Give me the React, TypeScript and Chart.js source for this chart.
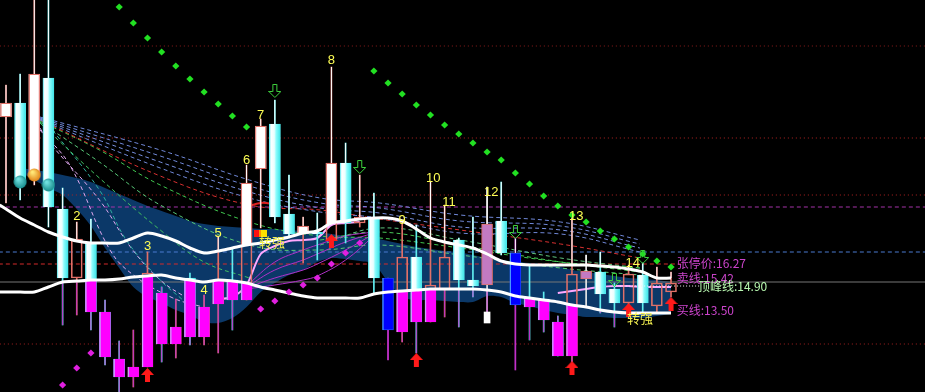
import React, { useEffect, useRef } from "react";
import { Chart, registerables } from "chart.js";

Chart.register(...registerables);

// ---------------- data (prices) ----------------
const candleTypes = [
  "up", "down", "up", "down", "down", "up", "down", "down", "down", "up",
  "up", "down", "up", "down", "up", "up", "down", "up", "up", "down",
  "down", "up", "down", "up", "down", "up", "down", "blue", "up", "down",
  "up", "up", "down", "down", "mauve", "down", "blue", "down", "down", "down",
  "up", "mauve", "down", "down", "up", "down", "up", "up",
];
const opens = [
  25.18, 26.02, 21.58, 27.52, 19.66, 15.52, 17.62, 13.48, 10.66, 9.58,
  10.18, 14.62, 11.56, 15.52, 11.98, 13.96, 15.4, 14.2, 22.06, 24.76,
  19.36, 18.16, 18.28, 17.8, 22.42, 18.82, 19.12, 15.52, 12.28, 16.78,
  12.88, 14.8, 17.8, 15.4, 18.76, 18.94, 17.02, 14.32, 14.26, 12.88,
  10.84, 15.94, 15.88, 14.86, 14.02, 15.7, 13.84, 14.68,
];
const highs = [
  27.1, 27.76, 33.4, 33.4, 20.92, 18.88, 19.06, 14.2, 11.74, 12.4,
  17.08, 14.98, 14.26, 15.82, 14.5, 18.04, 17.32, 22.3, 25.06, 26.2,
  21.7, 19.18, 19.42, 28.18, 23.62, 21.7, 20.62, 15.52, 19.0, 18.7,
  21.28, 19.9, 17.92, 19.18, 20.98, 21.28, 17.92, 16.3, 14.68, 13.24,
  19.3, 16.9, 17.08, 15.22, 16.3, 16.42, 16.18, 15.88,
];
const lows = [
  20.02, 20.2, 21.1, 18.58, 12.7, 13.3, 12.4, 10.3, 8.5, 8.98,
  10.18, 10.48, 10.72, 11.5, 11.5, 11.02, 12.4, 14.2, 18.52, 18.82,
  17.92, 16.42, 16.6, 17.8, 17.62, 18.58, 14.62, 10.6, 11.68, 11.02,
  12.88, 13.18, 12.58, 14.38, 13.48, 16.9, 10.0, 11.8, 12.28, 10.84,
  10.48, 13.78, 13.42, 12.58, 13.48, 13.42, 13.42, 14.38,
];
const closes = [
  26.02, 21.4, 27.76, 19.78, 15.52, 17.86, 13.48, 10.78, 9.58, 10.18,
  15.82, 11.56, 12.58, 11.98, 13.78, 15.4, 14.2, 21.22, 24.64, 19.18,
  18.16, 18.64, 18.16, 22.42, 18.82, 19.18, 15.52, 12.4, 16.78, 12.88,
  15.1, 16.78, 15.4, 15.04, 15.1, 17.02, 13.9, 13.78, 13.0, 10.84,
  15.76, 15.46, 14.56, 14.02, 15.76, 14.02, 15.22, 15.22,
];

// upper / lower white lines (plus their value at the left edge)
const lineEdgeIdx = -0.45;
const upperEdge = 19.9;
const lowerEdge = 14.68;
const upperLine = [
  19.66, 19.12, 18.7, 18.28, 17.98, 17.74, 17.62, 17.62, 17.62, 17.92,
  18.22, 18.04, 17.74, 17.32, 17.02, 17.14, 17.32, 17.5, 17.62, 17.8,
  17.98, 18.22, 18.34, 18.82, 18.94, 19.06, 19.12, 19.12, 18.94, 18.46,
  17.92, 17.68, 17.5, 17.32, 16.96, 16.54, 16.36, 16.3, 16.3, 16.3,
  16.3, 16.3, 16.24, 16.18, 16.06, 15.88, 15.52, 15.52,
];
const lowerLine = [
  14.68, 14.68, 14.68, 14.98, 15.28, 15.34, 15.4, 15.4, 15.46, 15.58,
  15.64, 15.7, 15.52, 15.4, 15.28, 15.4, 15.34, 15.22, 14.98, 14.8,
  14.62, 14.44, 14.32, 14.32, 14.32, 14.32, 14.56, 14.68, 14.74, 14.8,
  14.86, 14.86, 14.86, 14.86, 14.8, 14.68, 14.44, 14.32, 14.2, 14.08,
  13.9, 13.78, 13.6, 13.48, 13.42, 13.42, 13.42, 13.42,
];
// dark blue band
const bandTop = [
  null, 22.12, 22.0, 21.88, 21.7, 21.52, 21.28, 20.92, 20.56, 20.2,
  19.84, 19.54, 19.24, 18.94, 18.76, 18.64, 18.58, 18.52, 18.46, 18.46,
  18.4, 18.34, 18.28, 18.16, 18.04, 17.98, 17.92, 17.74, 17.56, 17.38,
  17.26, 17.14, 17.08, 16.9, 16.72, 16.6, 16.48, 16.42, 16.36, 16.24,
  16.0, 15.88, 15.76, 15.64, 15.52, 15.46, 15.4, 15.28,
];
const bandBottom = [
  null, 21.88, 21.4, 20.92, 20.5, 19.66, 18.64, 17.32, 16.12, 14.98,
  14.38, 14.02, 13.6, 13.3, 12.88, 12.82, 13.12, 13.78, 14.68, 15.22,
  15.7, 16.0, 16.48, 16.72, 16.66, 16.54, 16.36, 15.28, 14.38, 14.2,
  14.2, 14.14, 14.08, 14.08, 14.44, 14.38, 14.02, 13.84, 13.6, 13.42,
  13.3, 13.18, 13.18, 13.12, 13.12, 13.12, 13.24, 13.36,
];
const pinkLine = [
  null, null, null, null, null, null, null, null, null, null,
  null, null, null, null, null, 14.26, 14.38, 15.1, 16.96, 17.44,
  17.74, 17.8, 17.92, 18.7, 18.82, 18.88, null, null, null, null,
  null, null, null, null, null, null, null, null, null, 14.62,
  14.74, 14.86, 14.98, 15.04, 15.04, 14.98, 14.98, 14.98,
];

// fan of dashed averages
const fanXBlue = [2.4, 10.9, 17.2, 22.2, 26.4, 32.1, 39.2, 44.8];
const fanBlue1 = [25.18, 23.2, 21.4, 20.32, 20.02, 19.3, 18.88, 17.8];
const fanBlue2 = [25.12, 22.84, 21.04, 20.02, 19.72, 18.94, 18.64, 17.56];
const fanBlue3 = [25.06, 22.48, 20.68, 19.72, 19.42, 18.58, 18.4, 17.32];
const fanBlue4 = [25.0, 22.12, 20.32, 19.48, 19.12, 18.22, 18.16, 17.08];
const fanRed1 = [25.0, 21.64, 19.9, 19.6, 19.06, 18.4, 17.56, 16.72];
const fanXGreen = [2.4, 6.6, 10.9, 17.2, 22.2, 26.4, 32.1, 39.2, 44.8];
const fanGreen1 = [24.94, 23.2, 21.1, 18.88, 18.04, 17.92, 17.32, 16.48, 16.12];
const fanGreen2 = [24.88, 22.48, 19.9, 17.5, 17.2, 17.5, 16.9, 16.12, 15.7];
const fanXGreen3 = [2.4, 6.6, 10.9, 14, 17.2];
const fanGreen3 = [24.82, 21.52, 18.4, 16.48, 15.52];
const fanXGreenMid = [22.2, 26.4, 32.1, 39.2, 44.8];
const fanGreen4 = [17.8, 18.28, 17.5, 16.48, 15.88];
const fanGreen5 = [17.5, 18.52, 17.8, 16.72, 16.12];
const fanXTeal = [3, 6.6, 8.5, 10.9, 12.5];
const fanTeal = [24.7, 20.8, 17.8, 15.4, 14.2];
const fanXLav1 = [2.4, 3.1, 6.6, 8.8, 10.9, 13];
const fanLav1 = [24.52, 23.62, 20.2, 17.38, 15.4, 14.2];
const fanXLav2 = [2.4, 4.5, 7.35, 9, 11.8, 13.9];
const fanLav2 = [24.4, 22.3, 17.2, 15.7, 14.32, 13.78];

// purple thin fan
const purpleX = [17, 19, 21, 22, 24, 26];
const purple1 = [15.04, 16.48, 17.2, 17.5, 18.04, 18.28];
const purple2 = [14.98, 16.0, 16.6, 16.96, 17.68, 18.22];
const purple3 = [14.92, 15.52, 16.0, 16.36, 17.2, 18.16];
const purple4 = [14.86, 15.1, 15.4, 15.64, 16.6, 18.04];
const redShortX = [17, 18, 19];
const redShortY = [19.78, 20.02, 19.96];

// stop-and-reverse dots
const greenDots = [
  null, null, null, null, null, null, null, null, 31.78, 30.82,
  29.92, 29.08, 28.24, 27.46, 26.68, 25.96, 25.24, 24.58, null, null,
  null, null, null, null, null, null, 27.94, 27.22, 26.56, 25.9,
  25.3, 24.7, 24.16, 23.62, 23.08, 22.6, 21.82, 21.16, 20.44, 19.84,
  19.3, 18.88, 18.34, 17.86, 17.38, 16.96, 16.54, 16.18,
];
const magentaDotIdx = [4, 5, 6, 18, 19, 20, 21, 22, 23, 24, 25];
const magentaDotY = [9.1, 10.12, 11.02, 13.66, 14.14, 14.68, 15.1, 15.52, 16.36, 17.02, 17.62];

// signals
const upArrowIdx = [10, 23, 29, 40, 44, 47];
const upArrowY = [9.7, 17.74, 10.6, 10.12, 13.6, 13.96];
const downArrowIdx = [19, 25, 36, 43, 45];
const downArrowY = [26.74, 22.18, 18.28, 15.4, 16.78];
const ballIdx = [1, 2, 3];
const ballY = [21.28, 21.7, 21.1];

const countText = ["2", "3", "4", "5", "6", "7", "8", "9", "10", "11", "12", "13", "14"];
const countIdx = [5, 10, 14, 15, 17, 18, 23, 28, 30.2, 31.3, 34.3, 40.3, 44.3];
const countY = [19.24, 17.44, 14.8, 18.22, 22.6, 25.3, 28.6, 19.0, 21.52, 20.08, 20.68, 19.24, 16.42];
const strongText = ["转强", "转强"];
const strongIdx = [18.8, 44.8];
const strongY = [17.68, 13.12];
const flagIdx = 18;
const flagY = 18.22;

const refLineY = [29.44, 23.92, 20.5, 19.78, 17.08, 16.36, 15.28, 11.56];
const refLineEnd = [66, 66, 66, 66, 66, 47.7, 66, 66];
const peakLineX = [43.4, 49.0];
const peakLineY = 15.04;
const markerIdx = 34;
const markerRange = [12.82, 13.48];

const rightText = ["张停价:16.27", "卖线:15.42", "顶峰线:14.90", "买线:13.50"];
const rightIdx = [47.4, 47.4, 48.9, 47.4];
const rightY = [16.42, 15.52, 15.04, 13.6];

// ---------------- helpers ----------------
const pts = (xs: number[], ys: (number | null)[]) =>
  ys.map((v, k) => ({ x: xs[k], y: v })).filter((p) => p.y !== null);
const seq = (ys: any[]) => ys.map((_, k) => k);

function makeUpArrow() {
  const c = document.createElement("canvas");
  c.width = 13; c.height = 14;
  const g = c.getContext("2d")!;
  g.fillStyle = "#ff1a1a";
  g.beginPath();
  g.moveTo(6.5, 0); g.lineTo(13, 7); g.lineTo(9, 7); g.lineTo(9, 14);
  g.lineTo(4, 14); g.lineTo(4, 7); g.lineTo(0, 7); g.closePath(); g.fill();
  return c;
}
function makeDownArrow() {
  const c = document.createElement("canvas");
  c.width = 13; c.height = 14;
  const g = c.getContext("2d")!;
  g.strokeStyle = "#3ed23e"; g.lineWidth = 1;
  g.beginPath();
  g.moveTo(4.5, 0.5); g.lineTo(8.5, 0.5); g.lineTo(8.5, 7.5); g.lineTo(12.5, 7.5);
  g.lineTo(6.5, 13.5); g.lineTo(0.5, 7.5); g.lineTo(4.5, 7.5); g.closePath(); g.stroke();
  return c;
}
function makeBall(base: string, hi: string) {
  const c = document.createElement("canvas");
  c.width = 14; c.height = 14;
  const g = c.getContext("2d")!;
  const gr = g.createRadialGradient(5, 4, 1, 7, 7, 7);
  gr.addColorStop(0, hi); gr.addColorStop(1, base);
  g.fillStyle = gr; g.beginPath(); g.arc(7, 7, 6.5, 0, Math.PI * 2); g.fill();
  return c;
}

const SALMON = "#e07068";
const MAGENTA = "#ff00ff";
const WICK_PURPLE = "#c030c8";

const bgPlugin = {
  id: "bg",
  beforeDraw(chart: any) {
    const { ctx, width, height } = chart;
    ctx.save(); ctx.fillStyle = "#000"; ctx.fillRect(0, 0, width, height); ctx.restore();
  },
};

function zoneClip(ctx: any, line: any[], area: any, above: boolean) {
  const edge = above ? area.top - 20 : area.bottom + 20;
  ctx.beginPath();
  ctx.moveTo(area.left - 20, edge);
  ctx.lineTo(area.left - 20, line[0].y);
  line.forEach((p) => ctx.lineTo(p.x, p.y));
  ctx.lineTo(area.right + 20, line[line.length - 1].y);
  ctx.lineTo(area.right + 20, edge);
  ctx.closePath();
  ctx.clip();
}

const zonePlugin = {
  id: "zones",
  afterDatasetDraw(chart: any, args: any) {
    const ds = chart.data.datasets[args.index];
    const role = ds.role;
    if (role !== "body" && role !== "wickUp" && role !== "wickDown") return;
    const ctx = chart.ctx;
    const area = chart.chartArea;
    const ui = chart.data.datasets.findIndex((d: any) => d.role === "upper");
    const li = chart.data.datasets.findIndex((d: any) => d.role === "lower");
    const up = chart.getDatasetMeta(ui).data.map((p: any) => ({ x: p.x, y: p.y }));
    const lo = chart.getDatasetMeta(li).data.map((p: any) => ({ x: p.x, y: p.y }));
    const rects = args.meta.data.map((el: any) => ({
      l: el.x - el.width / 2,
      t: Math.min(el.y, el.base),
      w: el.width,
      h: Math.abs(el.y - el.base),
    }));
    if (role === "body") {
      ctx.save();
      rects.forEach((r: any, i: number) => {
        if (candleTypes[i] === "down" && r.h > 0) {
          const g = ctx.createLinearGradient(r.l, 0, r.l + r.w, 0);
          g.addColorStop(0, "#58e6ee");
          g.addColorStop(0.15, "#ffffff");
          g.addColorStop(0.45, "#eaffff");
          g.addColorStop(0.62, "#8cfcfc");
          g.addColorStop(1, "#3ee4e8");
          ctx.fillStyle = g;
          ctx.fillRect(r.l, r.t, r.w, r.h);
        }
        if (candleTypes[i] === "blue" && r.h > 0) {
          ctx.fillStyle = "#50a8ff";
          ctx.fillRect(r.l, r.t, 1, r.h);
        }
      });
      ctx.restore();
      ctx.save();
      zoneClip(ctx, up, area, true);
      rects.forEach((r: any, i: number) => {
        if (candleTypes[i] === "up" && r.h > 0) {
          ctx.fillStyle = "#ffffff";
          ctx.fillRect(r.l, r.t, r.w, r.h);
          ctx.strokeStyle = SALMON; ctx.lineWidth = 1;
          ctx.strokeRect(r.l + 0.5, r.t + 0.5, r.w - 1, Math.max(r.h - 1, 0));
        }
      });
      ctx.restore();
      ctx.save();
      zoneClip(ctx, lo, area, false);
      rects.forEach((r: any, i: number) => {
        const t = candleTypes[i];
        if ((t === "up" || t === "down") && r.h > 0) {
          ctx.fillStyle = MAGENTA;
          ctx.fillRect(r.l, r.t, r.w, r.h);
          ctx.fillStyle = "#c8a0ff";
          ctx.fillRect(r.l, r.t, 1.2, r.h);
        }
      });
      ctx.restore();
    } else {
      ctx.save();
      zoneClip(ctx, up, area, true);
      ctx.fillStyle = "#ffffff";
      rects.forEach((r: any) => { if (r.h > 0) ctx.fillRect(r.l, r.t, r.w, r.h); });
      ctx.restore();
      ctx.save();
      zoneClip(ctx, lo, area, false);
      ctx.fillStyle = WICK_PURPLE;
      rects.forEach((r: any) => { if (r.h > 0) ctx.fillRect(r.l, r.t, r.w, r.h); });
      ctx.restore();
    }
  },
};

const textPlugin = {
  id: "texts",
  afterDatasetsDraw(chart: any) {
    const { ctx } = chart;
    const xs = chart.scales.x;
    const ys = chart.scales.y;
    ctx.save();
    // red / yellow flag
    const fx = xs.getPixelForValue(flagIdx);
    const fy = ys.getPixelForValue(flagY);
    ctx.fillStyle = "#ff1010"; ctx.fillRect(Math.round(fx) - 7, Math.round(fy) - 3, 6, 7);
    ctx.fillStyle = "#ffe000"; ctx.fillRect(Math.round(fx) - 1, Math.round(fy) - 3, 7, 7);
    ctx.fillStyle = "#ff9000"; ctx.fillRect(Math.round(fx) - 2, Math.round(fy) - 3, 2, 7);

    ctx.textAlign = "center";
    ctx.textBaseline = "middle";
    ctx.font = '13px "Liberation Sans", "DejaVu Sans", sans-serif';
    ctx.fillStyle = "#ffff55";
    countText.forEach((t, k) => {
      ctx.fillText(t, xs.getPixelForValue(countIdx[k]), ys.getPixelForValue(countY[k]));
    });
    ctx.font = '13px "Noto Sans CJK SC", sans-serif';
    ctx.fillStyle = "#f4f050";
    strongText.forEach((t, k) => {
      ctx.fillText(t, xs.getPixelForValue(strongIdx[k]), ys.getPixelForValue(strongY[k]));
    });
    ctx.textAlign = "left";
    ctx.font = '12px "Noto Sans CJK SC", sans-serif';
    const rc = ["#cc44cc", "#c844c8", "#b8f8b0", "#cc44cc"];
    rightText.forEach((t, k) => {
      ctx.fillStyle = rc[k];
      ctx.fillText(t, xs.getPixelForValue(rightIdx[k]), ys.getPixelForValue(rightY[k]));
    });
    ctx.restore();
  },
};

export default function App() {
  const ref = useRef<HTMLCanvasElement>(null);
  useEffect(() => {
    const upArrow = makeUpArrow();
    const downArrow = makeDownArrow();
    const teal = makeBall("#128888", "#70e0e0");
    const orange = makeBall("#e07c10", "#ffe878");

    const refStyle = [
      { c: "#8c1c1c", d: [1, 3] },
      { c: "#b02222", d: [1, 3] },
      { c: "#b02222", d: [1, 3] },
      { c: "#a432a8", d: [4, 3] },
      { c: "#4a7ad0", d: [4, 3] },
      { c: "#d42a2a", d: [4, 3] },
      { c: "#767676", d: [] },
      { c: "#a02020", d: [1, 3] },
    ];

    const datasets: any[] = [];
    // blue band
    datasets.push({
      type: "line", role: "bandTop", data: pts(seq(bandTop), bandTop),
      borderWidth: 0, borderColor: "rgba(0,0,0,0)", pointRadius: 0, tension: 0.3, fill: false, order: 91,
    });
    datasets.push({
      type: "line", role: "bandBottom", data: pts(seq(bandBottom), bandBottom),
      borderWidth: 0, borderColor: "rgba(0,0,0,0)", pointRadius: 0, tension: 0.3,
      fill: "-1", backgroundColor: "#0b3868", order: 90,
    });
    // reference levels
    refLineY.forEach((v, k) => {
      datasets.push({
        type: "line", data: [{ x: -1, y: v }, { x: refLineEnd[k], y: v }],
        borderColor: refStyle[k].c, borderDash: refStyle[k].d, borderWidth: 1, pointRadius: 0, order: 85,
      });
    });
    // dashed fan
    const fan = (xs: number[], ys: number[], color: string) => ({
      type: "line", data: pts(xs, ys), borderColor: color, borderDash: [4, 3], borderWidth: 1,
      pointRadius: 0, tension: 0.4, order: 80,
    });
    datasets.push(fan(fanXBlue, fanBlue1, "#7088d8"));
    datasets.push(fan(fanXBlue, fanBlue2, "#7088d8"));
    datasets.push(fan(fanXBlue, fanBlue3, "#7890e0"));
    datasets.push(fan(fanXBlue, fanBlue4, "#7088d8"));
    datasets.push(fan(fanXBlue, fanRed1, "#d83030"));
    datasets.push(fan(fanXGreen, fanGreen1, "#40c850"));
    datasets.push(fan(fanXGreen, fanGreen2, "#58c878"));
    datasets.push(fan(fanXGreen3, fanGreen3, "#40c060"));
    datasets.push(fan(fanXGreenMid, fanGreen4, "#48c858"));
    datasets.push(fan(fanXGreenMid, fanGreen5, "#60c880"));
    datasets.push(fan(fanXTeal, fanTeal, "#30b0a0"));
    datasets.push(fan(fanXLav1, fanLav1, "#e0a8f0"));
    datasets.push(fan(fanXLav2, fanLav2, "#e0a8f0"));
    // purple thin fan
    [purple1, purple2, purple3, purple4].forEach((ys) => {
      datasets.push({
        type: "line", data: pts(purpleX, ys), borderColor: "#b030c8", borderWidth: 1,
        pointRadius: 0, tension: 0.4, order: 75,
      });
    });
    datasets.push({
      type: "line", data: seq(pinkLine).map((k) => ({ x: k, y: pinkLine[k] })),
      borderColor: "#ffa8ff", borderWidth: 2, pointRadius: 0, tension: 0.3, order: 72,
    });
    datasets.push({
      type: "line", data: pts(redShortX, redShortY), borderColor: "#e02020", borderWidth: 2,
      pointRadius: 0, tension: 0.4, order: 71,
    });
    // candles
    const bodyTop = opens.map((o, i) => Math.max(o, closes[i]));
    const bodyBot = opens.map((o, i) => Math.min(o, closes[i]));
    const wickColor = candleTypes.map((t) =>
      t === "up" ? SALMON : t === "down" ? "#60eef0" : t === "blue" ? WICK_PURPLE : "#e8e8e8");
    datasets.push({
      type: "bar", role: "wickUp", data: opens.map((_, i) => ({ x: i, y: [bodyTop[i], highs[i]] })),
      barThickness: 1, grouped: false, backgroundColor: wickColor, borderWidth: 0, order: 61,
    });
    datasets.push({
      type: "bar", role: "wickDown", data: opens.map((_, i) => ({ x: i, y: [lows[i], bodyBot[i]] })),
      barThickness: 1, grouped: false, backgroundColor: wickColor, borderWidth: 0, order: 60,
    });
    datasets.push({
      type: "bar", role: "body", data: opens.map((o, i) => ({ x: i, y: [o, closes[i]] })),
      barThickness: 11, grouped: false, borderSkipped: false, borderWidth: 1,
      backgroundColor: candleTypes.map((t) =>
        t === "up" ? "rgba(0,0,0,0)" : t === "down" ? "#48e8e8" : t === "blue" ? "#0000ff" : "#c27ac2"),
      borderColor: candleTypes.map((t) =>
        t === "up" ? SALMON : t === "down" ? "#60f0f0" : t === "blue" ? "#1840ff" : SALMON),
      order: 50,
    });
    datasets.push({
      type: "bar", data: [{ x: markerIdx, y: markerRange }], barThickness: 6, grouped: false,
      backgroundColor: "#ffffff", borderWidth: 0, order: 49,
    });
    // white lines
    datasets.push({
      type: "line", role: "upper",
      data: [{ x: lineEdgeIdx, y: upperEdge }, ...pts(seq(upperLine), upperLine)],
      borderColor: "#ffffff", borderWidth: 3, pointRadius: 0, tension: 0.3, order: 30,
    });
    datasets.push({
      type: "line", role: "lower",
      data: [{ x: lineEdgeIdx, y: lowerEdge }, ...pts(seq(lowerLine), lowerLine)],
      borderColor: "#ffffff", borderWidth: 3, pointRadius: 0, tension: 0.3, order: 30,
    });
    datasets.push({
      type: "line", data: [{ x: peakLineX[0], y: peakLineY }, { x: peakLineX[1], y: peakLineY }],
      borderColor: "#f0f0f0", borderDash: [1, 2], borderWidth: 1, pointRadius: 0, order: 29,
    });
    // dots
    datasets.push({
      type: "line", showLine: false, data: pts(seq(greenDots), greenDots),
      pointStyle: "rectRot", pointRadius: 3.6, backgroundColor: "#22e022", borderColor: "#22e022",
      borderWidth: 0, order: 20,
    });
    datasets.push({
      type: "line", showLine: false, data: pts(magentaDotIdx, magentaDotY),
      pointStyle: "rectRot", pointRadius: 3.6, backgroundColor: "#e020e0", borderColor: "#e020e0",
      borderWidth: 0, order: 20,
    });
    datasets.push({
      type: "line", showLine: false, data: pts(ballIdx, ballY),
      pointStyle: [teal, orange, teal], pointRadius: 7, order: 15,
    });
    datasets.push({
      type: "line", showLine: false, data: pts(upArrowIdx, upArrowY),
      pointStyle: upArrow, pointRadius: 7, order: 10,
    });
    datasets.push({
      type: "line", showLine: false, data: pts(downArrowIdx, downArrowY),
      pointStyle: downArrow, pointRadius: 7, order: 10,
    });

    const chart = new Chart(ref.current!, {
      type: "bar",
      data: { datasets } as any,
      options: {
        responsive: false,
        maintainAspectRatio: false,
        animation: false,
        events: [],
        layout: { padding: 0, autoPadding: false },
        plugins: { legend: { display: false }, tooltip: { enabled: false }, title: { display: false } },
        scales: {
          x: { type: "linear", min: -0.424, max: 64.95, display: false, offset: false },
          y: { type: "linear", min: 8.68, max: 32.2, display: false },
        },
      } as any,
      plugins: [bgPlugin, zonePlugin, textPlugin] as any,
    });
    return () => chart.destroy();
  }, []);

  return (
    <div style={{ position: "fixed", left: 0, top: 0, width: 925, height: 392, background: "#000" }}>
      <canvas ref={ref} width={925} height={392} style={{ display: "block" }} />
    </div>
  );
}
